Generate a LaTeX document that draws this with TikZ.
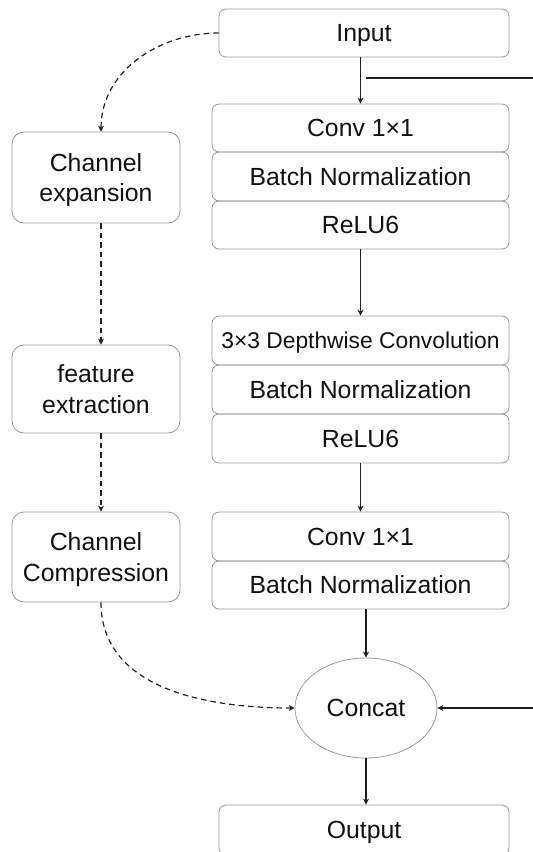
\documentclass[tikz,border=0pt]{standalone}
\usepackage{fontspec}
\setmainfont{Liberation Sans}
\usetikzlibrary{arrows.meta,shapes.geometric}
\definecolor{boxgray}{HTML}{9A9A9A}
\definecolor{txt}{HTML}{111111}
\definecolor{arrc}{HTML}{202020}
\begin{document}
\begin{tikzpicture}[x=1pt,y=-1pt,
  rbox/.style={draw=boxgray, line width=0.8pt, rounded corners=7pt, minimum width=297pt, inner sep=0pt, text depth=0pt, text=txt, font=\fontsize{24.8}{30}\selectfont},
  lbox/.style={draw=boxgray, line width=0.8pt, rounded corners=12pt, minimum width=168pt, inner sep=0pt, text depth=0pt, text=txt, align=center, font=\fontsize{24.8}{30.5}\selectfont},
  ell/.style={draw=boxgray, line width=0.8pt, ellipse, minimum width=142pt, minimum height=100pt, inner sep=0pt, text depth=0pt, text=txt, font=\fontsize{24.8}{30}\selectfont},
  arr/.style={draw=arrc, line width=1.3pt, -{Stealth[length=6pt,width=6pt]}},
  plain/.style={draw=arrc, line width=1.3pt},
  darr/.style={draw=arrc, line width=1.2pt, dash pattern=on 5.5pt off 4pt, -{Stealth[length=6pt,width=6pt]}}
]
\useasboundingbox (0,0) rectangle (533,852);

% main column
\node[rbox, minimum width=290pt, minimum height=48pt] (input) at (364,33) {Input};
\node[rbox, minimum height=48pt] (conv1) at (360.5,128) {Conv 1×1};
\node[rbox, minimum height=49pt] (bn1) at (360.5,176.5) {Batch Normalization};
\node[rbox, minimum height=48pt] (relu1) at (360.5,225) {ReLU6};

\node[rbox, minimum height=49pt, font=\fontsize{22.8}{28}\selectfont] (dw) at (360.5,340.5) {3×3 Depthwise Convolution};
\node[rbox, minimum height=49pt] (bn2) at (360.5,389.5) {Batch Normalization};
\node[rbox, minimum height=49pt] (relu2) at (360.5,438.5) {ReLU6};

\node[rbox, minimum height=49pt] (conv3) at (360.5,536.5) {Conv 1×1};
\node[rbox, minimum height=48pt] (bn3) at (360.5,585) {Batch Normalization};

\node[ell] (concat) at (366,708) {Concat};
\node[rbox, minimum width=290pt, minimum height=50pt] (output) at (364,830) {Output};

% left column
\node[lbox, minimum height=91pt] (exp) at (96,177.5) {Channel\\expansion};
\node[lbox, minimum height=88pt] (feat) at (96,389) {feature\\extraction};
\node[lbox, minimum height=90pt] (comp) at (96,557) {Channel\\Compression};

% free ends
\coordinate (r1) at (533,78);
\coordinate (j1) at (366,78);
\coordinate (r2) at (533,708);

% solid connectors
\draw[arr] (conv1.north |- input.south) -- (conv1.north);
\draw[plain] (j1) -- (r1);
\draw[arr] (relu1.south) -- (dw.north);
\draw[arr] (relu2.south) -- (conv3.north);
\draw[arr] (concat.north |- bn3.south) -- (concat.north);
\draw[arr] (r2) -- (concat.east);
\draw[arr] (concat.south) -- (concat.south |- output.north);

% dashed connectors
\draw[darr] (input.west) .. controls +(-60,0) and +(0,-60) .. ([xshift=5pt]exp.north);
\draw[darr] ([xshift=5pt]exp.south) -- ([xshift=5pt]feat.north);
\draw[darr] ([xshift=5pt]feat.south) -- ([xshift=5pt]comp.north);
\draw[darr] ([xshift=5pt]comp.south) .. controls +(0,87) and +(-87,0) .. (concat.west);
\end{tikzpicture}
\end{document}
